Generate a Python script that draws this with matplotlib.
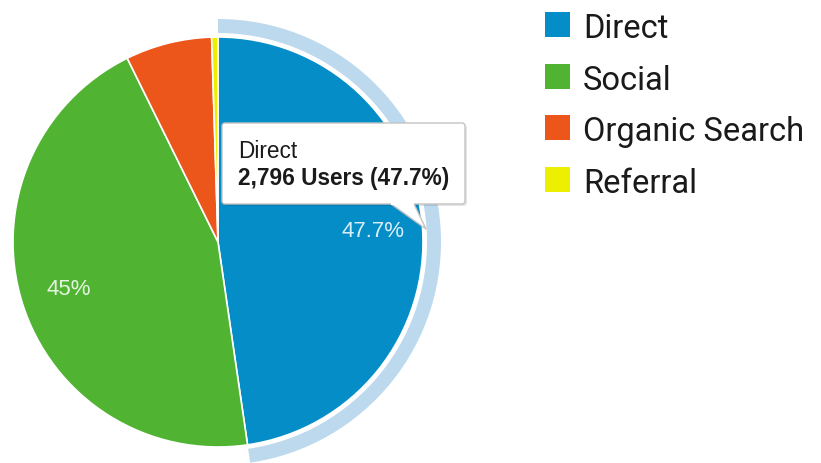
import matplotlib.pyplot as plt
from matplotlib.patches import Wedge, FancyBboxPatch, Polygon, Rectangle

# Traffic sources (users)
sources = ["Direct", "Social", "Organic Search", "Referral"]
users = [2796, 2638, 399, 29]
colors = ["#058dc7", "#50b432", "#ed561b", "#edef00"]

W, H = 821, 464
total = sum(users)


def Y(py):
    # pixel row -> data y
    return H - py


def pct_label(p):
    if p < 10:
        return ""
    s = f"{p:.1f}"
    if s.endswith(".0"):
        s = s[:-2]
    return s + "%"


fig = plt.figure(figsize=(W / 100, H / 100), dpi=100)
ax = fig.add_axes([0, 0, 1, 1])

cx, cy, r = 218, Y(243), 205

# highlight ring around the selected slice (Direct)
direct_ang = 360 * users[0] / total
ring = Wedge((cx, cy), r + 18, 90 - direct_ang, 90, width=14,
             facecolor="#bcd9ee", edgecolor="none", zorder=1)
ax.add_patch(ring)

wedges, texts, autotexts = ax.pie(
    users, colors=colors, startangle=90, counterclock=False,
    center=(cx, cy), radius=r, autopct=pct_label, pctdistance=0.76,
    wedgeprops=dict(edgecolor="white", linewidth=1.2),
    textprops=dict(color="white", alpha=0.85, fontsize=16, family="Liberation Sans"))
for w in wedges:
    w.set_zorder(2)
for t in autotexts:
    t.set_zorder(3)

# tooltip
shadow = FancyBboxPatch((224, Y(207)), 243, 81, boxstyle="round,pad=0,rounding_size=3",
                        facecolor="#000000", alpha=0.10, edgecolor="none", zorder=4)
ax.add_patch(shadow)
box = FancyBboxPatch((222, Y(205)), 243, 81, boxstyle="round,pad=0,rounding_size=3",
                     facecolor="white", edgecolor="#c4c4c4", linewidth=1, zorder=5)
ax.add_patch(box)
tail = Polygon([(391, Y(204.5)), (426, Y(230)), (414, Y(204.5))], closed=True,
               facecolor="white", edgecolor="none", zorder=6)
ax.add_patch(tail)
ax.plot([391, 426, 414], [Y(205), Y(230), Y(205)], color="#c4c4c4", lw=1, zorder=6)
ax.plot([392, 413], [Y(204.5), Y(204.5)], color="white", lw=1.5, zorder=6)

share = 100 * users[0] / total
ax.text(238, Y(158), sources[0], fontsize=16.3, family="Liberation Sans",
        color="#1a1a1a", va="baseline", zorder=7)
ax.text(238, Y(185), f"{users[0]:,} Users ({share:.1f}%)", fontsize=16.3,
        family="Liberation Sans", fontweight="bold", color="#1a1a1a",
        va="baseline", zorder=7)

# legend
for i, (name, c) in enumerate(zip(sources, colors)):
    base = 38 + i * 51.7
    ax.add_patch(Rectangle((545, Y(base)), 25, 25, facecolor=c, edgecolor="none"))
    ax.text(583, Y(base), name, fontsize=23.5, family="Roboto",
            color="#1a1a1a", va="baseline")

ax.set_xlim(0, W)
ax.set_ylim(0, H)
ax.set_aspect("equal")
ax.axis("off")

fig.savefig("out.png", dpi=100, facecolor="white")
